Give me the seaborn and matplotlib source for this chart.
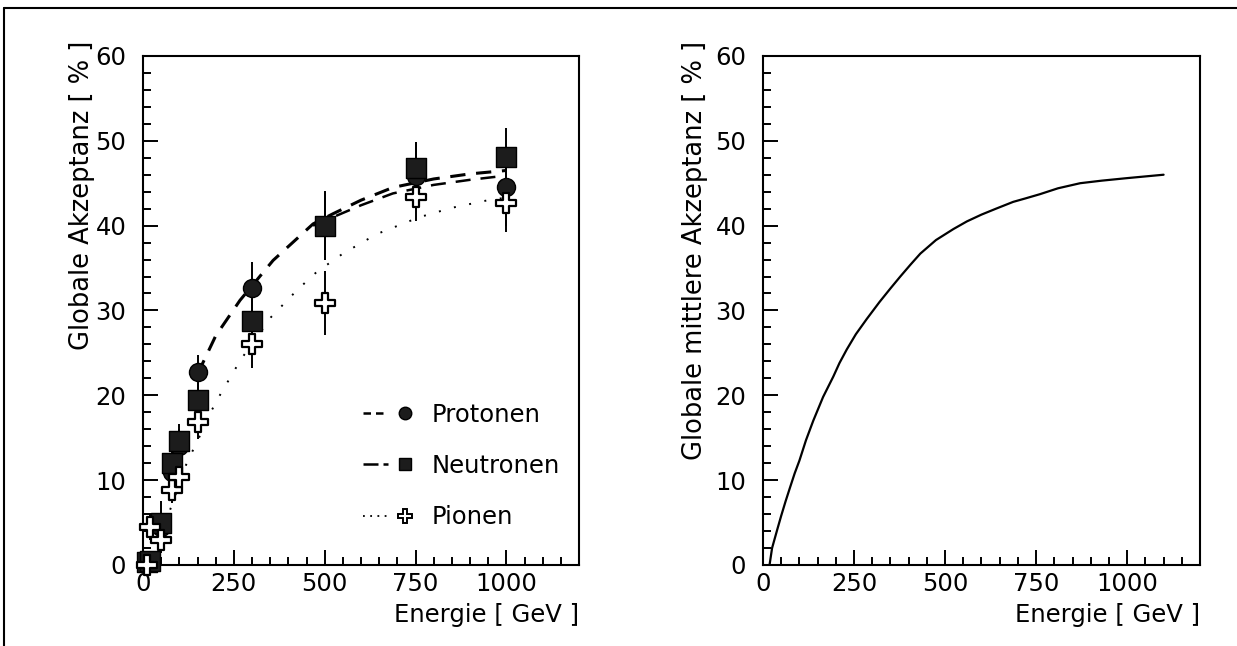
import numpy as np
import pandas as pd
import matplotlib
matplotlib.use('Agg')
import matplotlib.pyplot as plt
from matplotlib.lines import Line2D
from matplotlib.legend_handler import HandlerTuple
from matplotlib.ticker import MultipleLocator
import seaborn as sns

# ========== DATA ==========
energie = [10, 20, 50, 80, 100, 150, 300, 500, 750, 1000]

protonen = [0.5, 0.3, 4.5, 11.0, 14.0, 22.7, 32.7, 40.0, 45.8, 44.5]
protonen_err = [0.5, 0.5, 1.5, 2.0, 2.0, 2.0, 3.0, 4.0, 4.0, 4.5]

neutronen = [0.3, 0.5, 4.9, 12.0, 14.6, 19.5, 28.8, 40.0, 46.8, 48.1]
neutronen_err = [0.5, 0.5, 2.7, 2.0, 2.0, 2.0, 2.5, 4.1, 3.0, 3.4]

pionen = [0.0, 4.5, 2.9, 8.8, 10.4, 16.8, 26.0, 30.9, 43.4, 42.7]
pionen_err = [0.5, 1.5, 1.5, 1.5, 1.5, 2.0, 2.8, 3.8, 2.8, 3.5]

# fit curves of the left panel (protons and neutrons coincide below ~470 GeV)
fit_p_x = [150, 200, 267, 358, 468, 523, 600, 688, 800, 900, 1000]
fit_p_y = [22.5, 27.0, 31.2, 35.9, 40.2, 41.4, 43.0, 44.5, 45.5, 46.1, 46.5]
fit_n_x = [468, 523, 600, 688, 800, 900, 1000]
fit_n_y = [40.0, 41.0, 42.4, 43.8, 44.8, 45.4, 45.9]
fit_pi_x = [60, 72, 100, 121, 151, 181, 214, 269, 352, 424, 477, 550, 643, 761, 850, 950, 1000]
fit_pi_y = [4.8, 6.2, 9.5, 12.1, 14.7, 17.6, 20.2, 24.2, 29.2, 32.4, 34.5, 36.7, 39.0, 41.0, 42.1, 43.0, 43.3]

# mean acceptance curve of the right panel
mittel_x = [18, 25, 40, 50, 62, 74, 87, 100, 118, 138, 165, 193, 210, 230, 255, 285,
            320, 350, 377, 405, 432, 475, 523, 560, 600, 640, 687, 720, 760, 810,
            871, 930, 1000, 1050, 1100]
mittel_y = [0.0, 2.0, 4.3, 5.8, 7.5, 9.1, 10.8, 12.3, 14.7, 17.0, 19.8, 22.2, 23.8, 25.4,
            27.2, 29.0, 31.0, 32.6, 34.0, 35.4, 36.7, 38.3, 39.6, 40.5, 41.3, 42.0,
            42.8, 43.2, 43.7, 44.4, 45.0, 45.3, 45.6, 45.8, 46.0]

# ========== STYLE ==========
sns.set_theme(style='ticks')
plt.rcParams['font.family'] = ['DejaVu Sans']
plt.rcParams['text.color'] = 'black'
plt.rcParams['axes.labelcolor'] = 'black'
plt.rcParams['xtick.color'] = 'black'
plt.rcParams['ytick.color'] = 'black'
FS = 17.5
DARK = '#1c1c1c'


def style_axes(ax, ylabel, ylabel_x):
    ax.set_xlim(0, 1200)
    ax.set_ylim(0, 60)
    ax.xaxis.set_major_locator(MultipleLocator(250))
    ax.xaxis.set_minor_locator(MultipleLocator(50))
    ax.yaxis.set_major_locator(MultipleLocator(10))
    ax.yaxis.set_minor_locator(MultipleLocator(2))
    ax.tick_params(which='both', direction='in', top=False, right=False,
                   width=1.4, color='black', labelsize=FS, labelcolor='black')
    ax.tick_params(which='major', length=10.5)
    ax.tick_params(which='minor', length=5.5)
    ax.tick_params(axis='y', which='major', pad=12)
    ax.tick_params(axis='x', which='major', pad=5)
    for s in ax.spines.values():
        s.set_linewidth(1.5)
        s.set_color('black')
        s.set_visible(True)
    ax.set_xlabel('Energie [ GeV ]', fontsize=FS, loc='right')
    ax.xaxis.set_label_coords(1.0, -0.075)
    ax.set_ylabel(ylabel, fontsize=FS + 1, loc='top')
    ax.yaxis.set_label_coords(ylabel_x, 1.03)
    ax.grid(False)


fig = plt.figure(figsize=(12.37, 6.46), dpi=100)
ax1 = fig.add_axes([0.1156, 0.1254, 0.3525, 0.788])
ax2 = fig.add_axes([0.6168, 0.1254, 0.3533, 0.788])

# ========== LEFT PANEL ==========
df = pd.DataFrame({'E': energie, 'p': protonen, 'pe': protonen_err,
                   'n': neutronen, 'ne': neutronen_err,
                   'pi': pionen, 'pie': pionen_err})

sns.lineplot(x=fit_p_x, y=fit_p_y, ax=ax1, color='black', lw=2.2,
             estimator=None, sort=False, linestyle=(0, (5, 3.5)))
sns.lineplot(x=fit_n_x, y=fit_n_y, ax=ax1, color='black', lw=1.8,
             estimator=None, sort=False, linestyle=(0, (6, 4)))
sns.lineplot(x=fit_pi_x, y=fit_pi_y, ax=ax1, color='black', lw=1.4,
             estimator=None, sort=False, linestyle=(0, (1, 7)))

for col, err in [('p', 'pe'), ('n', 'ne'), ('pi', 'pie')]:
    ax1.errorbar(df['E'], df[col], yerr=df[err], fmt='none', ecolor='black',
                 elinewidth=1.4, capsize=0, zorder=3)

sns.scatterplot(data=df, x='E', y='p', ax=ax1, marker='o', s=13 ** 2,
                color=DARK, edgecolor='black', linewidth=1, zorder=4, clip_on=False)
sns.scatterplot(data=df, x='E', y='n', ax=ax1, marker='s', s=14 ** 2,
                color=DARK, edgecolor='black', linewidth=1, zorder=5, clip_on=False)
sns.scatterplot(data=df, x='E', y='pi', ax=ax1, marker='P', s=15 ** 2,
                color='white', edgecolor='black', linewidth=1.6, zorder=6, clip_on=False)

h_p = (Line2D([], [], color='black', lw=1.8, dashes=(3, 2)),
       Line2D([], [], ls='none', marker='o', ms=9, color=DARK, mec='black'))
h_n = (Line2D([], [], color='black', lw=1.8, dashes=(6, 2)),
       Line2D([], [], ls='none', marker='s', ms=9, color=DARK, mec='black'))
h_pi = (Line2D([], [], color='black', lw=1.3, dashes=(1, 3)),
        Line2D([], [], ls='none', marker='P', ms=10, color='white', mec='black', mew=1.4))
ax1.legend([h_p, h_n, h_pi], ['Protonen', 'Neutronen', 'Pionen'],
           handler_map={tuple: HandlerTuple(ndivide=2, pad=0.2)},
           loc='upper left', bbox_to_anchor=(0.455, 0.362), frameon=False,
           fontsize=FS, labelspacing=1.12, handlelength=2.2, handletextpad=0.6)

style_axes(ax1, 'Globale Akzeptanz [ % ]', -0.11)

# ========== RIGHT PANEL ==========
sns.lineplot(x=mittel_x, y=mittel_y, ax=ax2, color='black', lw=1.6,
             estimator=None, sort=False)
style_axes(ax2, 'Globale mittlere Akzeptanz [ % ]', -0.125)

# outer frame (top and left edge of the scanned page)
fig.add_artist(Line2D([0.003, 1.0], [0.988, 0.988], transform=fig.transFigure,
                      color='black', lw=1.5))
fig.add_artist(Line2D([0.003, 0.003], [0.0, 0.988], transform=fig.transFigure,
                      color='black', lw=1.5))

fig.savefig('out.png', dpi=100)
plt.close(fig)
